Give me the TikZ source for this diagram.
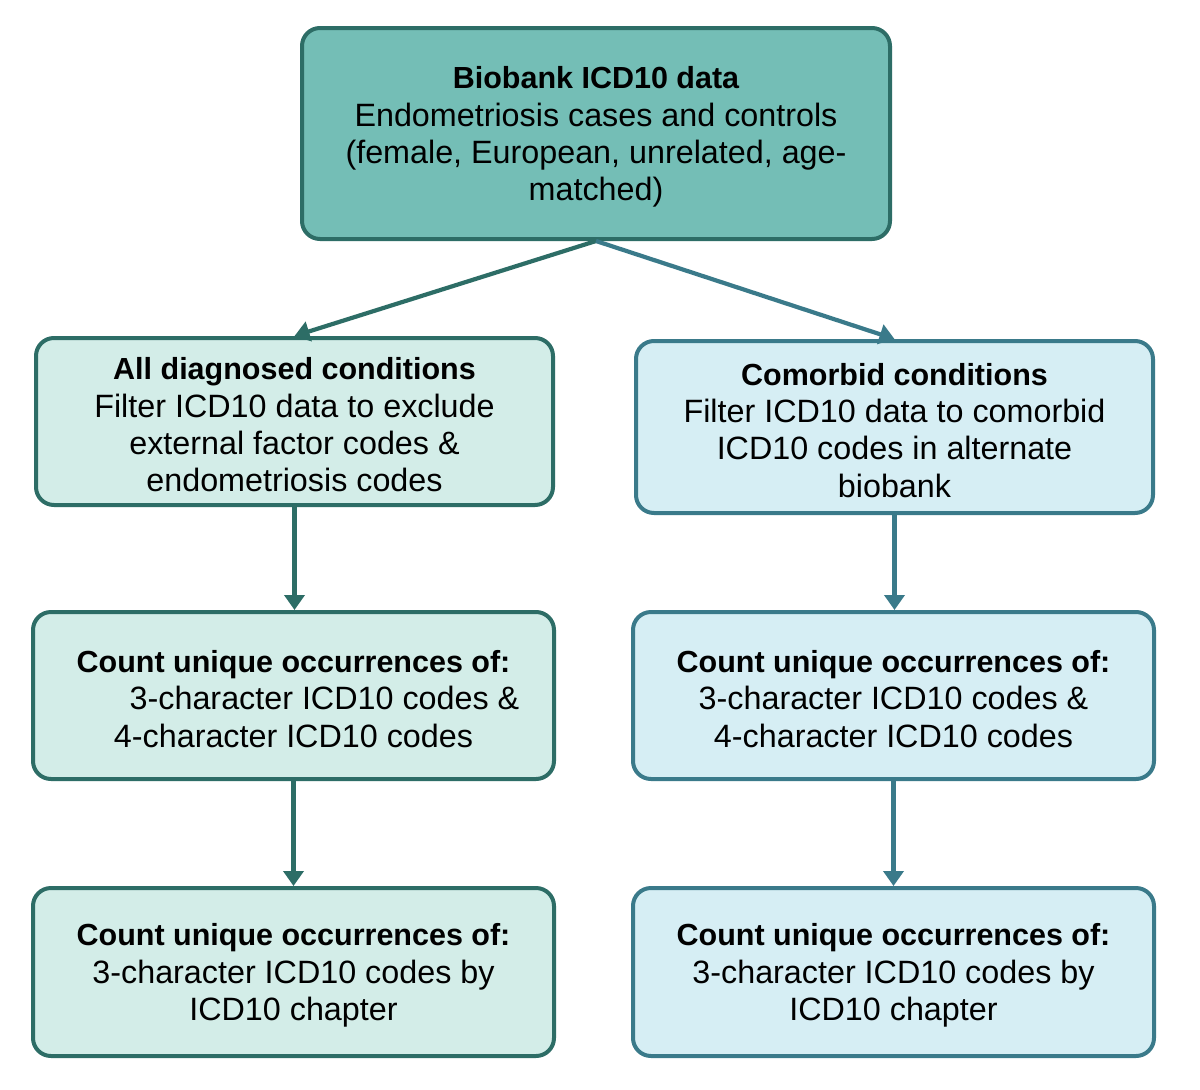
\documentclass[tikz,border=0pt]{standalone}
\usepackage{fontspec}
\setmainfont{Liberation Sans}
\usetikzlibrary{arrows.meta}
\definecolor{topfill}{HTML}{74BEB6}
\definecolor{greenfill}{HTML}{D3EDE8}
\definecolor{bluefill}{HTML}{D6EEF4}
\definecolor{tealdark}{HTML}{2D6D66}
\definecolor{bluedark}{HTML}{3A7A8A}
\newcommand{\hd}[1]{\rule{0pt}{29pt}{\fontsize{30.5}{37.3}\selectfont\bfseries #1}}
\tikzset{
  box/.style={draw, rounded corners=18pt, line width=4pt, inner sep=0pt, align=center,
    font=\fontsize{32.3}{37.3}\selectfont, text=black},
  gbox/.style={box, draw=tealdark, fill=greenfill},
  bbox/.style={box, draw=bluedark, fill=bluefill},
  garrow/.style={draw=tealdark, line width=4.2pt, -{Triangle[length=15pt,width=20pt]}},
  barrow/.style={draw=bluedark, line width=4.2pt, -{Triangle[length=15pt,width=20pt]}},
}
\begin{document}
\begin{tikzpicture}[x=1pt,y=-1pt]
\useasboundingbox[fill=white] (0,0) rectangle (1200,1090);

\node[box, draw=tealdark, fill=topfill, minimum width=588pt, minimum height=211pt] (top) at (596,133.5)
  {\hd{Biobank ICD10 data}\\Endometriosis cases and controls\\(female, European, unrelated, age-\\matched)};

\node[gbox, minimum width=517pt, minimum height=167pt] (l1) at (294.5,421.5)
  {\hd{All diagnosed conditions}\\Filter ICD10 data to exclude\\external factor codes \&\\endometriosis codes};
\node[bbox, minimum width=517pt, minimum height=172pt] (r1) at (894.5,427)
  {\hd{Comorbid conditions}\\Filter ICD10 data to comorbid\\ICD10 codes in alternate\\biobank};

\node[gbox, minimum width=521pt, minimum height=167pt] (l2) at (293.5,695.5)
  {\hd{Count unique occurrences of:}\\\hspace*{62pt}3-character ICD10 codes \&\\4-character ICD10 codes};
\node[bbox, minimum width=521pt, minimum height=167pt] (r2) at (893.5,695.5)
  {\hd{Count unique occurrences of:}\\3-character ICD10 codes \&\\4-character ICD10 codes};

\node[gbox, minimum width=521pt, minimum height=168pt] (l3) at (293.5,972)
  {\hd{Count unique occurrences of:}\\3-character ICD10 codes by\\ICD10 chapter};
\node[bbox, minimum width=521pt, minimum height=168pt] (r3) at (893.5,972)
  {\hd{Count unique occurrences of:}\\3-character ICD10 codes by\\ICD10 chapter};

\draw[garrow] (top.south) -- (l1.north);
\draw[barrow] (top.south) -- (r1.north);
\draw[garrow] (l1.south) -- (l1.south |- l2.north);
\draw[barrow] (r1.south) -- (r1.south |- r2.north);
\draw[garrow] (l2.south) -- (l3.north);
\draw[barrow] (r2.south) -- (r3.north);
\end{tikzpicture}
\end{document}
